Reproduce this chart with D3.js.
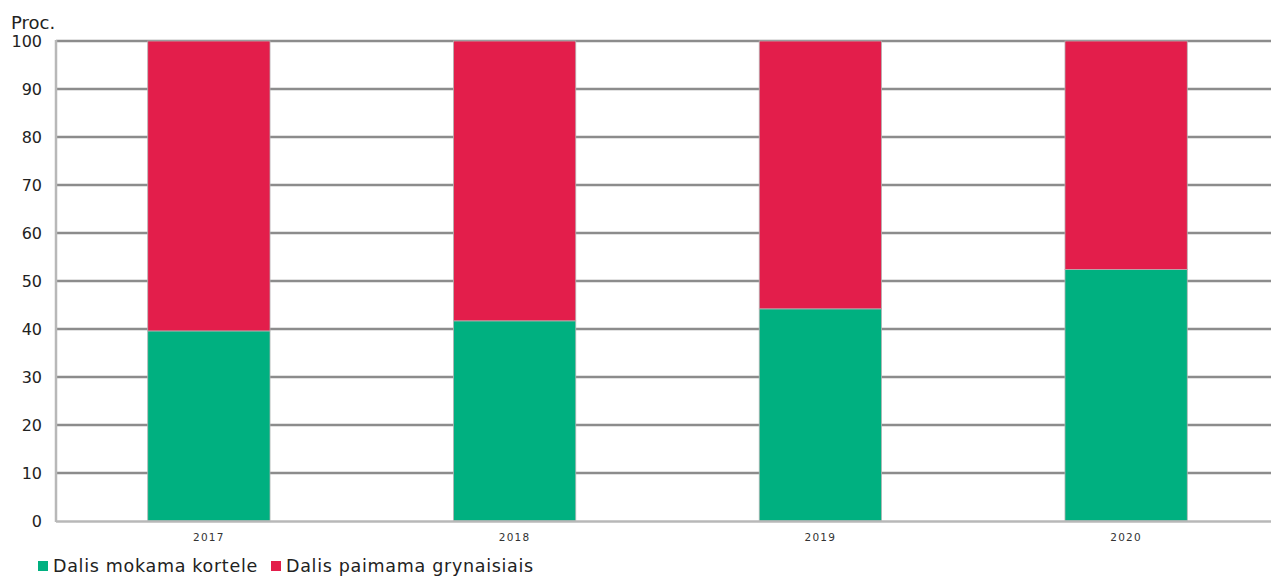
<!DOCTYPE html>
<html>
<head>
<meta charset="utf-8">
<script src="https://cdn.jsdelivr.net/npm/d3@7"></script>
<style>
  body { margin: 0; background: #fff; }
  svg { display: block; font-family: "DejaVu Sans", Verdana, sans-serif; }
</style>
</head>
<body>
<div id="chart"></div>
<script>
const years = ['2017', '2018', '2019', '2020'];
const cardShare = [39.6, 41.7, 44.2, 52.4];
const cashShare = [60.4, 58.3, 55.8, 47.6];
const yTicks = [0, 10, 20, 30, 40, 50, 60, 70, 80, 90, 100];
const seriesNames = ['Dalis mokama kortele', 'Dalis paimama grynaisiais'];
const seriesColors = ['#00b080', '#e31e4b'];

const width = 1271, height = 576;
const margin = {top: 41, left: 56, bottom: 55};

const svg = d3.select('#chart').append('svg')
    .attr('width', width)
    .attr('height', height);

const x = d3.scaleBand()
    .domain(years)
    .range([margin.left, 1279])
    .paddingInner(0.6)
    .paddingOuter(0.3);

const y = d3.scaleLinear()
    .domain([0, 100])
    .range([height - margin.bottom, margin.top]);

// gridlines
svg.append('g')
    .selectAll('line')
    .data(yTicks.filter(d => d > 0))
    .join('line')
    .attr('x1', margin.left)
    .attr('x2', width)
    .attr('y1', d => y(d))
    .attr('y2', d => y(d))
    .attr('stroke', '#8c8c8c')
    .attr('stroke-width', 2.5);

// stacked data
const rows = years.map((yr, i) => ({year: yr, card: cardShare[i], cash: cashShare[i]}));
const stack = d3.stack().keys(['card', 'cash'])(rows);

svg.append('g')
    .selectAll('g')
    .data(stack)
    .join('g')
    .attr('fill', (d, i) => seriesColors[i])
    .selectAll('rect')
    .data(d => d)
    .join('rect')
    .attr('x', d => x(d.data.year))
    .attr('width', x.bandwidth())
    .attr('y', d => y(d[1]))
    .attr('height', d => y(d[0]) - y(d[1]))
    .attr('stroke', '#b4b4b4')
    .attr('stroke-width', 0.8);

// axes lines
svg.append('line')
    .attr('x1', margin.left).attr('x2', margin.left)
    .attr('y1', y(100) - 1).attr('y2', y(0) + 1)
    .attr('stroke', '#b8b8b8').attr('stroke-width', 2.5);
svg.append('line')
    .attr('x1', margin.left).attr('x2', width)
    .attr('y1', y(0) + 0.5).attr('y2', y(0) + 0.5)
    .attr('stroke', '#b8b8b8').attr('stroke-width', 2.5);

// y tick labels
svg.append('g')
    .selectAll('text')
    .data(yTicks)
    .join('text')
    .attr('x', 42)
    .attr('y', d => y(d))
    .attr('dy', '0.36em')
    .attr('text-anchor', 'end')
    .attr('font-size', 16)
    .attr('fill', '#222')
    .text(d => d);

svg.append('text')
    .attr('x', 11)
    .attr('y', 29)
    .attr('font-size', 18)
    .attr('fill', '#222')
    .text('Proc.');

// x tick labels
svg.append('g')
    .selectAll('text')
    .data(years)
    .join('text')
    .attr('x', d => x(d) + x.bandwidth() / 2)
    .attr('y', 541)
    .attr('text-anchor', 'middle')
    .attr('font-size', 10.5)
    .attr('letter-spacing', 1.3)
    .attr('fill', '#333')
    .text(d => d);

// legend
const legendX = [38, 271];
const legend = svg.append('g')
    .selectAll('g')
    .data(seriesNames)
    .join('g')
    .attr('transform', (d, i) => `translate(${legendX[i]},561)`);
legend.append('rect')
    .attr('width', 10).attr('height', 10)
    .attr('fill', (d, i) => seriesColors[i]);
legend.append('text')
    .attr('x', 15)
    .attr('y', 11)
    .attr('font-size', 17.5)
    .attr('letter-spacing', 0.7)
    .attr('fill', '#222')
    .text(d => d);
</script>
</body>
</html>
